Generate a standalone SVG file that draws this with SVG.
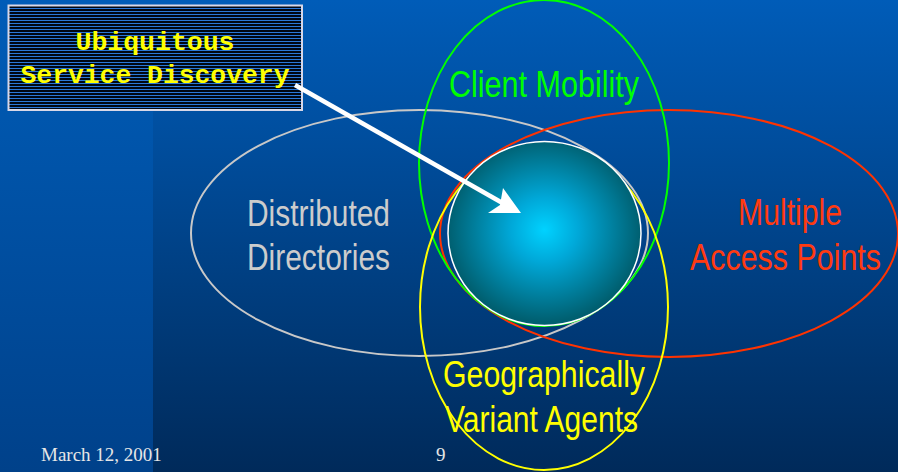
<svg xmlns="http://www.w3.org/2000/svg" width="898" height="472" viewBox="0 0 898 472">
<defs>
<linearGradient id="bgR" x1="0" y1="0" x2="0" y2="1">
<stop offset="0" stop-color="#005cb8"/>
<stop offset="0.25" stop-color="#0050a2"/>
<stop offset="1" stop-color="#002a5a"/>
</linearGradient>
<linearGradient id="bgL" x1="0" y1="0" x2="0" y2="1">
<stop offset="0" stop-color="#005cb8"/>
<stop offset="0.25" stop-color="#0056ad"/>
<stop offset="1" stop-color="#00418a"/>
</linearGradient>
<radialGradient id="ball" cx="0.5" cy="0.48" r="0.5">
<stop offset="0" stop-color="#00d2ff"/>
<stop offset="0.35" stop-color="#00a8d8"/>
<stop offset="1" stop-color="#005f70"/>
</radialGradient>
<pattern id="stripes" x="0" y="0" width="4" height="3" patternUnits="userSpaceOnUse">
<rect x="0" y="0" width="4" height="3" fill="#000814"/>
<rect x="0" y="2" width="4" height="1" fill="#2a78d8"/>
</pattern>
</defs>
<style>
.lbl{font-family:"Liberation Sans",Arial,sans-serif;font-size:37px;text-anchor:middle}
.ring{fill:none;stroke-width:2}
.foot{font-family:"Liberation Serif","Times New Roman",serif;font-size:19px;fill:#e6e6e6}
.mono{font-family:"Liberation Mono","Courier New",monospace;font-weight:bold;font-size:26.5px;fill:#ffff00;text-anchor:middle}
</style>
<rect x="0" y="0" width="898" height="472" fill="url(#bgR)"/>
<rect x="0" y="0" width="153" height="472" fill="url(#bgL)"/>

<g id="distributed-directories">
<ellipse class="ring" cx="419.5" cy="233" rx="228.5" ry="123" stroke="#c8c8c8"/>
<text class="lbl" x="318.5" y="226" fill="#cccccc" textLength="143" lengthAdjust="spacingAndGlyphs">Distributed</text>
<text class="lbl" x="318.5" y="270" fill="#cccccc" textLength="143" lengthAdjust="spacingAndGlyphs">Directories</text>
</g>

<g id="multiple-access-points">
<ellipse class="ring" cx="669" cy="233.5" rx="229" ry="123.5" stroke="#ff3300"/>
<text class="lbl" x="790" y="225" fill="#ff3a10" textLength="104" lengthAdjust="spacingAndGlyphs">Multiple</text>
<text class="lbl" x="785.5" y="270" fill="#ff3a10" textLength="191" lengthAdjust="spacingAndGlyphs">Access Points</text>
</g>

<g id="client-mobility">
<ellipse class="ring" cx="544" cy="163" rx="125" ry="163" stroke="#00ff00"/>
<text class="lbl" x="544" y="97" fill="#00ff00" textLength="190" lengthAdjust="spacingAndGlyphs">Client Mobility</text>
</g>

<g id="geographically-variant-agents">
<ellipse class="ring" cx="544" cy="307" rx="124" ry="163" stroke="#ffff00"/>
<text class="lbl" x="544" y="387" fill="#ffff00" textLength="202" lengthAdjust="spacingAndGlyphs">Geographically</text>
<text class="lbl" x="541.5" y="432" fill="#ffff00" textLength="193" lengthAdjust="spacingAndGlyphs">Variant Agents</text>
</g>

<g id="service-discovery-core">
<ellipse cx="544.5" cy="233.5" rx="96.5" ry="92" fill="url(#ball)" stroke="#ffffff" stroke-width="1.5"/>
</g>

<g id="ubiquitous-service-discovery">
<rect x="8.5" y="5.5" width="293.5" height="104.5" fill="url(#stripes)" stroke="#d8d8e8" stroke-width="2"/>
<text class="mono" x="155" y="50">Ubiquitous</text>
<text class="mono" x="155" y="83" textLength="269" lengthAdjust="spacingAndGlyphs">Service Discovery</text>
</g>

<g id="connectors">
<line x1="295" y1="85" x2="506" y2="205" stroke="#ffffff" stroke-width="4.5"/>
<polygon points="521,213 488,213 500,205 503,188" fill="#ffffff"/>
</g>

<g id="footer">
<text class="foot" x="41" y="461">March 12, 2001</text>
<text class="foot" x="436" y="461">9</text>
</g>
</svg>
